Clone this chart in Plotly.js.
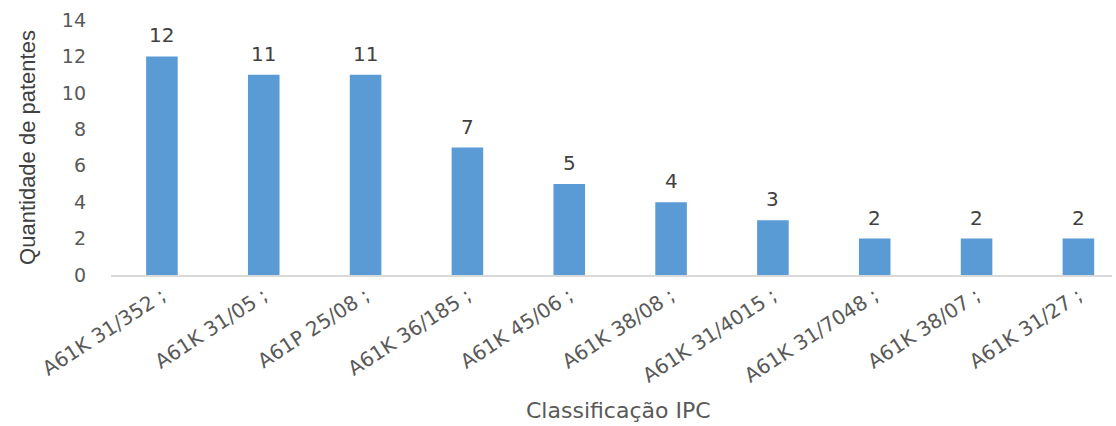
<!DOCTYPE html>
<html>
<head>
<meta charset="utf-8">
<script src="https://cdn.plot.ly/plotly-3.0.1.min.js"></script>
<style>html,body{margin:0;padding:0;background:#fff;}#chart{width:1116px;height:426px;}</style>
</head>
<body>
<div id="chart"></div>
<script>
const categories = ["A61K 31/352 ;", "A61K 31/05 ;", "A61P 25/08 ;", "A61K 36/185 ;", "A61K 45/06 ;", "A61K 38/08 ;", "A61K 31/4015 ;", "A61K 31/7048 ;", "A61K 38/07 ;", "A61K 31/27 ;"];
const values = [12, 11, 11, 7, 5, 4, 3, 2, 2, 2];
const yTicks = [0, 2, 4, 6, 8, 10, 12, 14];
const xTitle = 'Classificação IPC';
const yTitle = 'Quantidade de patentes';

const FONT = 'DejaVu Sans, sans-serif';

const trace = {
  type: 'bar',
  x: categories.map((c, i) => i),
  y: values,
  marker: {color: '#5b9bd5'},
  width: 0.31,
  hoverinfo: 'none'
};

const annotations = values.map((v, i) => ({
  x: i, y: v, xref: 'x', yref: 'y',
  text: String(v), showarrow: false,
  yanchor: 'bottom', yshift: 7,
  font: {family: FONT, size: 20, color: '#404040'}
}));
annotations.push({
  x: 0.507, xref: 'paper', yref: 'paper',
  y: -(410 - 275) / 255, yanchor: 'middle', xanchor: 'center',
  text: xTitle, showarrow: false,
  font: {family: FONT, size: 22, color: '#595959'}
});

const layout = {
  width: 1116, height: 426,
  margin: {l: 111, r: 4, t: 20, b: 151},
  paper_bgcolor: '#ffffff', plot_bgcolor: '#ffffff',
  showlegend: false,
  xaxis: {
    range: [-0.5, 9.33],
    tickmode: 'array',
    tickvals: categories.map((c, i) => i),
    ticktext: categories,
    tickangle: -33,
    tickfont: {family: FONT, size: 20, color: '#595959'},
    showline: true, linecolor: '#d9d9d9', linewidth: 1.5,
    showgrid: false, zeroline: false, ticks: '',
    automargin: false
  },
  yaxis: {
    range: [0, 14],
    tickmode: 'array',
    tickvals: yTicks,
    ticktext: yTicks.map(String),
    tickfont: {family: FONT, size: 19, color: '#595959'},
    showgrid: false, zeroline: false, showline: false, ticks: '',
    ticklabelstandoff: 24,
    automargin: false,
    title: {text: yTitle, font: {family: 'Liberation Sans Narrow, Arial Narrow, sans-serif', size: 22, color: '#404040'}, standoff: 20}
  },
  annotations: annotations
};

Plotly.newPlot('chart', [trace], layout, {displayModeBar: false, staticPlot: true});
</script>
</body>
</html>
